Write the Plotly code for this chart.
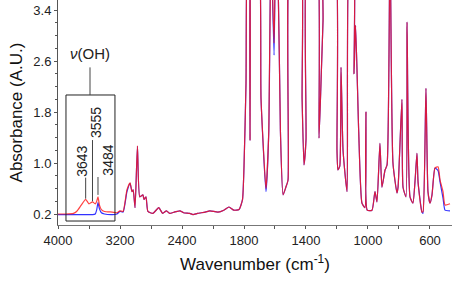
import plotly.graph_objects as go

# wavenumber (cm-1), absorbance of the two spectra
wavenumber = [4000, 3900, 3800, 3760, 3700, 3643, 3600, 3555, 3520, 3500, 3484, 3465, 3440, 3400, 3300,
              3240, 3200, 3160, 3110, 3070, 3045, 3030, 3006, 2975, 2945, 2905, 2890, 2865, 2840, 2775,
              2700, 2650, 2600, 2560, 2500, 2460, 2426, 2380, 2300, 2258, 2200, 2100, 2040, 1968, 1930,
              1897, 1865, 1832, 1810, 1800, 1787, 1775, 1768, 1761, 1752, 1742, 1710, 1690, 1658, 1640,
              1626, 1606, 1595, 1581, 1565, 1548, 1530, 1516, 1497, 1440, 1425, 1413, 1400, 1387, 1335,
              1316, 1300, 1290, 1280, 1219, 1200, 1194, 1182, 1174, 1161, 1135, 1116, 1095, 1090, 1080,
              1060, 1039, 1020, 1013, 1005, 974, 955, 942, 923, 910, 890, 877, 858, 839, 813,
              806, 781, 774, 755, 748, 729, 710, 697, 684, 677, 652, 645, 626, 613, 600,
              587, 568, 548, 535, 516, 503, 471]
blue = [0.19, 0.19, 0.19, 0.19, 0.19, 0.19, 0.19, 0.19, 0.20, 0.27, 0.38, 0.28, 0.22, 0.20, 0.19,
        0.20, 0.24, 0.23, 0.55, 0.68, 0.55, 0.58, 0.30, 1.26, 0.47, 0.50, 0.43, 0.47, 0.24, 0.21,
        0.30, 0.21, 0.25, 0.21, 0.23, 0.24, 0.25, 0.22, 0.21, 0.19, 0.21, 0.23, 0.25, 0.23, 0.26,
        0.31, 0.26, 0.27, 0.42, 0.94, 2.25, 4.5, 4.5, 1.36, 4.5, 4.5, 4.5, 2.0, 0.55, 1.5,
        4.5, 2.69, 4.5, 4.0, 1.5, 0.50, 0.62, 0.73, 4.5, 4.5, 2.0, 0.97, 1.36, 4.5, 4.5,
        1.39, 2.5, 3.24, 4.5, 4.5, 1.2, 0.89, 0.95, 2.5, 1.2, 0.55, 4.5, 4.5, 2.4, 3.16,
        1.5, 0.37, 0.30, 1.8, 0.26, 0.26, 0.55, 0.39, 1.31, 0.62, 0.89, 0.97, 4.5, 1.0, 0.53,
        0.62, 2.0, 0.62, 0.47, 3.21, 0.47, 0.37, 0.7, 1.15, 0.7, 0.23, 0.21, 2.17, 0.55, 0.37,
        0.50, 0.92, 0.88, 0.70, 0.45, 0.26, 0.25]
red = [0.20, 0.20, 0.21, 0.24, 0.34, 0.43, 0.36, 0.39, 0.36, 0.40, 0.47, 0.34, 0.27, 0.24, 0.23,
       0.22, 0.25, 0.24, 0.58, 0.69, 0.55, 0.58, 0.30, 1.27, 0.47, 0.50, 0.43, 0.47, 0.24, 0.21,
       0.30, 0.21, 0.25, 0.21, 0.23, 0.24, 0.25, 0.22, 0.21, 0.19, 0.21, 0.23, 0.25, 0.23, 0.26,
       0.31, 0.26, 0.27, 0.42, 0.94, 2.25, 4.5, 4.5, 1.36, 4.5, 4.5, 4.5, 2.0, 0.60, 1.5,
       4.5, 2.88, 4.5, 4.0, 1.5, 0.50, 0.62, 0.73, 4.5, 4.5, 2.0, 0.97, 1.36, 4.5, 4.5,
       1.39, 2.5, 3.24, 4.5, 4.5, 1.2, 0.89, 0.95, 2.5, 1.2, 0.55, 4.5, 4.5, 2.4, 3.16,
       1.5, 0.37, 0.30, 1.8, 0.26, 0.26, 0.55, 0.39, 1.31, 0.62, 0.89, 0.97, 4.5, 1.0, 0.53,
       0.62, 2.0, 0.62, 0.47, 3.21, 0.47, 0.37, 0.7, 1.15, 0.7, 0.23, 0.24, 2.17, 0.55, 0.37,
       0.50, 0.92, 0.94, 0.73, 0.55, 0.34, 0.36]

x_tick_labels = [4000, 3200, 2400, 1800, 1400, 1000, 600]
y_tick_labels = [0.2, 1.0, 1.8, 2.6, 3.4]
peak_labels = [3643, 3555, 3484]
peak_text_w = [3690, 3507, 3357]
peak_text_y = [1.02, 1.63, 1.05]
peak_line_top = [0.77, 1.36, 0.78]
peak_line_bottom = [0.44, 0.40, 0.50]


def axis_pos(w):
    # instrument-style axis: scale doubles below 2000 cm-1
    return (4000 - w) if w >= 2000 else 2000 + 2 * (2000 - w)


u = [axis_pos(w) for w in wavenumber]

fig = go.Figure()
fig.add_trace(go.Scatter(x=u, y=blue, mode="lines",
                         line=dict(color="rgb(50,50,255)", width=1.2, shape="spline", smoothing=0.5),
                         showlegend=False))
fig.add_trace(go.Scatter(x=u, y=red, mode="lines",
                         line=dict(color="rgb(255,20,20)", width=1.2, shape="spline", smoothing=0.5),
                         opacity=0.8, showlegend=False))

font_family = "Arial, Liberation Sans, sans-serif"

# box around the OH region
fig.add_shape(type="rect", x0=axis_pos(3897), x1=axis_pos(3265), y0=0.09, y1=2.067,
              line=dict(color="#222", width=1))
fig.add_shape(type="line", x0=axis_pos(3587), x1=axis_pos(3587), y0=2.067, y1=2.5,
              line=dict(color="#444", width=1))
fig.add_annotation(x=axis_pos(3587), y=2.72, text="<i>ν</i>(OH)", showarrow=False,
                   font=dict(size=15, color="#222", family=font_family))

for wl, tw, ty, lt, lb in zip(peak_labels, peak_text_w, peak_text_y, peak_line_top, peak_line_bottom):
    fig.add_shape(type="line", x0=axis_pos(wl), x1=axis_pos(wl), y0=lb, y1=lt,
                  line=dict(color="#444", width=1))
    fig.add_annotation(x=axis_pos(tw), y=ty, text=str(wl), textangle=-90, showarrow=False,
                       font=dict(size=14, color="#222", family=font_family))

fig.update_layout(
    width=454, height=285,
    margin=dict(l=58, r=2, t=0, b=60),
    plot_bgcolor="white", paper_bgcolor="white",
    font=dict(family=font_family, color="#222"),
    xaxis=dict(
        range=[0, axis_pos(458)],
        automargin=False,
        tickmode="array",
        tickvals=[axis_pos(w) for w in x_tick_labels],
        ticktext=[str(w) for w in x_tick_labels],
        ticks="outside", ticklen=3, tickcolor="#555",
        minor=dict(dtick=400, tick0=0, ticks="outside", ticklen=3, tickcolor="#555"),
        showline=True, linecolor="#777", linewidth=1,
        showgrid=False, zeroline=False,
        tickfont=dict(size=13, color="#222"),
        title=dict(text="Wavenumber (cm<sup>-1</sup>)", font=dict(size=17, color="#111"), standoff=11),
    ),
    yaxis=dict(
        range=[0.0275, 3.557],
        automargin=False,
        tickmode="array",
        tickvals=y_tick_labels,
        ticktext=[f"{v:.1f}" for v in y_tick_labels],
        ticks="outside", ticklen=3, tickcolor="#555",
        minor=dict(dtick=0.2, tick0=0.2, ticks="outside", ticklen=2, tickcolor="#555"),
        showline=True, linecolor="#555", linewidth=1,
        showgrid=False, zeroline=False,
        tickfont=dict(size=13, color="#222"),
        title=dict(text="Absorbance (A.U.)", font=dict(size=17, color="#111"), standoff=6),
    ),
)

fig.write_html("out.html", config={"displayModeBar": False},
               post_script="document.body.style.margin='0';")
